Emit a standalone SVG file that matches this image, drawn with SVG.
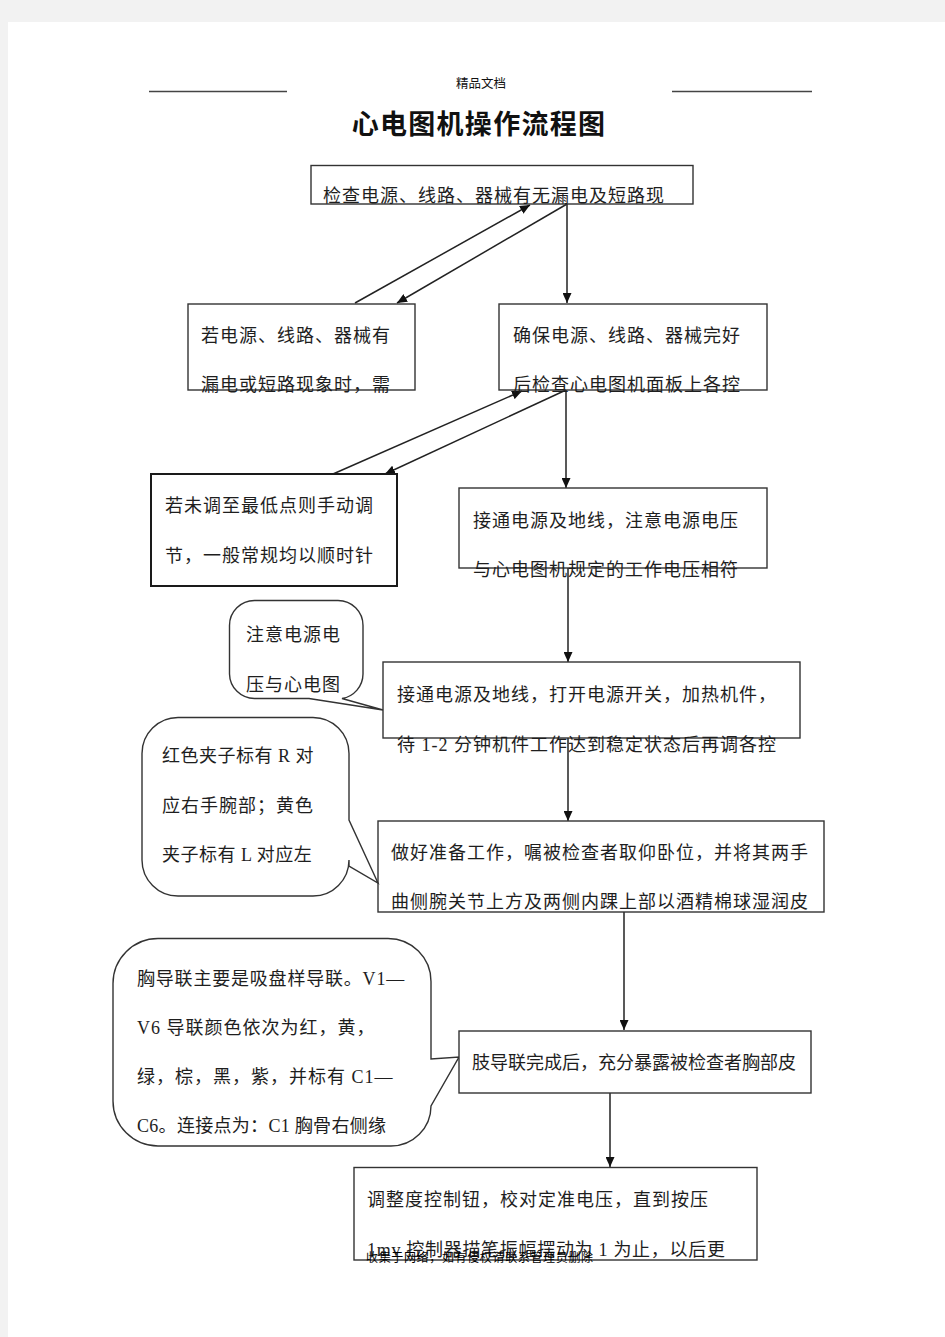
<svg xmlns="http://www.w3.org/2000/svg" width="945" height="1337" viewBox="0 0 945 1337">
<defs>
<style>
.bx{fill:#fff;stroke:#333;stroke-width:1.4}
.bx2{fill:#fff;stroke:#1a1a1a;stroke-width:2}
.co{fill:#fff;stroke:#333;stroke-width:1.4}
.t{font-family:"Liberation Serif","Noto Sans CJK SC",serif;font-size:18px;letter-spacing:1px;fill:#1e1e1e}
.c{stroke:#222;stroke-width:1.5;fill:none;marker-end:url(#ah)}
.hl{stroke:#444;stroke-width:1.3}
</style>
<marker id="ah" markerUnits="userSpaceOnUse" markerWidth="10" markerHeight="9" refX="10" refY="4.5" orient="auto">
<path d="M0,0 L10,4.5 L0,9 Z" fill="#111"/>
</marker>
</defs>
<rect x="0" y="0" width="945" height="1337" fill="#f2f2f2"/>
<rect x="8" y="22" width="937" height="1315" fill="#fff"/>
<g id="header">
<line class="hl" x1="149" y1="91.5" x2="287" y2="91.5"/>
<line class="hl" x1="672" y1="91.5" x2="812" y2="91.5"/>
<text x="481" y="88" text-anchor="middle" font-family="Noto Sans CJK SC, sans-serif" font-size="12.5" fill="#111">精品文档</text>
<text x="479" y="134" text-anchor="middle" font-family="Noto Sans CJK SC, sans-serif" font-size="27" font-weight="bold" letter-spacing="1.3" fill="#111">心电图机操作流程图</text>
</g>
<g id="connectors">
<line class="c" x1="355" y1="303" x2="530" y2="205"/>
<line class="c" x1="567" y1="204" x2="397" y2="303"/>
<line class="c" x1="567" y1="204" x2="567" y2="303"/>
<line class="c" x1="333" y1="474" x2="522" y2="391"/>
<line class="c" x1="566" y1="390" x2="385" y2="474"/>
<line class="c" x1="566" y1="390" x2="566" y2="488"/>
<line class="c" x1="568" y1="568" x2="568" y2="662"/>
<line class="c" x1="568" y1="738" x2="568" y2="821"/>
<line class="c" x1="624" y1="912" x2="624" y2="1030"/>
<line class="c" x1="610" y1="1093" x2="610" y2="1167"/>
</g>
<g id="n1">
<rect class="bx" x="311" y="165.5" width="382" height="38.5" fill-opacity="0"/>
<text class="t" x="323" y="202">检查电源、线路、器械有无漏电及短路现</text>
</g>
<g id="n2">
<rect class="bx" x="188" y="304" width="227" height="86" fill-opacity="0"/>
<text class="t" x="201" y="342">若电源、线路、器械有</text>
<text class="t" x="201" y="391">漏电或短路现象时，需</text>
</g>
<g id="n3">
<rect class="bx" x="499" y="304" width="268" height="86" fill-opacity="0"/>
<text class="t" x="513" y="342">确保电源、线路、器械完好</text>
<text class="t" x="513" y="391">后检查心电图机面板上各控</text>
</g>
<g id="n4">
<rect class="bx2" x="151" y="474" width="246" height="112"/>
<text class="t" x="165" y="512">若未调至最低点则手动调</text>
<text class="t" x="165" y="562">节，一般常规均以顺时针</text>
</g>
<g id="n5">
<rect class="bx" x="459" y="488" width="308" height="80" fill-opacity="0"/>
<text class="t" x="473" y="527">接通电源及地线，注意电源电压</text>
<text class="t" x="473" y="576">与心电图机规定的工作电压相符</text>
</g>
<g id="callout1">
<path class="co" d="M254.5,600.5 H338 A25,25 0 0 1 363,625.5 V674 A25,25 0 0 1 342,698.5 L383,710 L309,698.5 H254.5 A25,25 0 0 1 229.5,674 V625.5 A25,25 0 0 1 254.5,600.5 Z"/>
<text class="t" x="246" y="641">注意电源电</text>
<text class="t" x="246" y="691">压与心电图</text>
</g>
<g id="n6">
<rect class="bx" x="383" y="662" width="417" height="76" fill-opacity="0"/>
<text class="t" x="397" y="701">接通电源及地线，打开电源开关，加热机件，</text>
<text class="t" x="397" y="751">待 1-2 分钟机件工作达到稳定状态后再调各控</text>
</g>
<g id="callout2">
<path class="co" d="M178,717.5 H313 A36,36 0 0 1 349,753.5 V820 L378,883 L349,866 V860 A36,36 0 0 1 313,896 H178 A36,36 0 0 1 142,860 V753.5 A36,36 0 0 1 178,717.5 Z"/>
<text class="t" x="162" y="762" style="letter-spacing:0.5px">红色夹子标有 R 对</text>
<text class="t" x="162" y="812">应右手腕部；黄色</text>
<text class="t" x="162" y="861" style="letter-spacing:0.5px">夹子标有 L 对应左</text>
</g>
<g id="n7">
<rect class="bx" x="378" y="821" width="446" height="91" fill-opacity="0"/>
<text class="t" x="391" y="859">做好准备工作，嘱被检查者取仰卧位，并将其两手</text>
<text class="t" x="391" y="908">曲侧腕关节上方及两侧内踝上部以酒精棉球湿润皮</text>
</g>
<g id="callout3">
<path class="co" d="M158,938.5 H388 A43,43 0 0 1 431,981.5 V1059 L459,1057 L431,1106 A40,40 0 0 1 391,1146 H158 A45,45 0 0 1 113,1101 V983.5 A45,45 0 0 1 158,938.5 Z"/>
<text class="t" x="137" y="985" style="letter-spacing:0.8px">胸导联主要是吸盘样导联。V1—</text>
<text class="t" x="137" y="1034">V6 导联颜色依次为红，黄，</text>
<text class="t" x="137" y="1083">绿，棕，黑，紫，并标有 C1—</text>
<text class="t" x="137" y="1132" style="letter-spacing:0.3px">C6。连接点为：C1 胸骨右侧缘</text>
</g>
<g id="n8">
<rect class="bx" x="459" y="1031" width="352" height="62"/>
<text class="t" x="472" y="1069" style="letter-spacing:0">肢导联完成后，充分暴露被检查者胸部皮</text>
</g>
<g id="n9">
<rect class="bx" x="354" y="1167.5" width="403" height="92.5" fill-opacity="0"/>
<text class="t" x="367" y="1206">调整度控制钮，校对定准电压，直到按压</text>
<text class="t" x="367" y="1256" style="letter-spacing:0.7px">1mv 控制器描笔振幅摆动为 1 为止，以后更</text>
</g>
<g id="footer">
<text x="366" y="1262" font-family="Noto Sans CJK SC, sans-serif" font-size="12" letter-spacing="0.65" fill="#000">收集于网络，如有侵权请联系管理员删除</text>
</g>
</svg>
